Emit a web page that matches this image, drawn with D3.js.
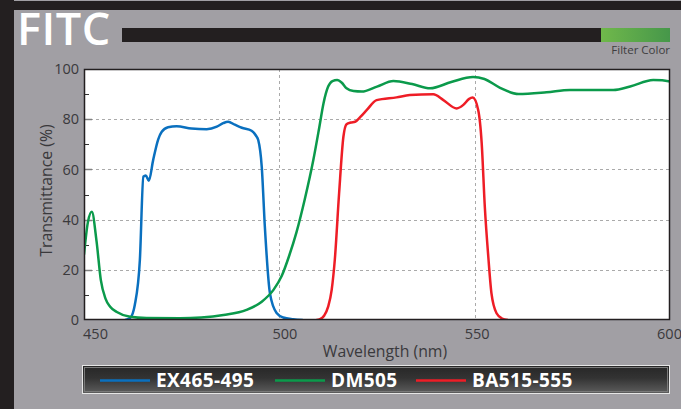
<!DOCTYPE html>
<html>
<head>
<meta charset="utf-8">
<script src="https://cdn.jsdelivr.net/npm/d3@7/dist/d3.min.js"></script>
<style>
  html, body { margin: 0; padding: 0; background: #a19fa4; }
  svg { display: block; }
</style>
</head>
<body>
<svg id="chart" width="681" height="409"></svg>
<script>
// Transmission spectra of the FITC filter set (wavelength nm, transmittance %)
const exWl = [460.5, 461.8, 463.0, 464.3, 465.2, 465.8, 466.6, 467.7, 469.0, 469.9, 471.5, 473.7, 477.5, 481.4, 484.0, 485.6, 486.9, 488.6, 490.4, 492.9, 494.0, 494.6, 495.5, 496.3, 497.6, 499.3, 501.0, 503.5, 506.0];
const exT  = [0.0, 0.8, 6.0, 23.9, 57.1, 57.6, 55.5, 63.7, 72.0, 75.0, 76.8, 77.2, 76.3, 76.0, 77.0, 78.4, 79.0, 77.8, 76.6, 75.4, 73.5, 71.7, 61.0, 37.0, 10.6, 2.8, 1.0, 0.3, 0.0];

const dmWl = [450.0, 451.0, 452.0, 453.2, 454.3, 455.5, 456.7, 458.4, 461.8, 466.0, 474.6, 480.0, 485.7, 491.6, 495.5, 498.5, 500.6, 502.5, 504.4, 506.5, 508.7, 510.2, 511.3, 512.5, 513.6, 514.8, 516.0, 517.2, 519.0, 521.1, 525.0, 529.2, 534.0, 538.6, 544.0, 549.6, 552.5, 556.5, 561.2, 568.4, 574.4, 580.0, 585.5, 589.8, 595.7, 598.0, 600.0];
const dmT  = [26.0, 39.0, 43.1, 31.5, 16.0, 8.5, 5.3, 3.2, 1.3, 0.8, 0.7, 1.0, 2.0, 4.0, 7.3, 12.0, 17.5, 25.5, 35.0, 48.0, 63.7, 76.5, 86.3, 93.0, 95.2, 95.6, 94.5, 92.3, 91.2, 91.0, 93.0, 95.2, 94.0, 92.3, 94.8, 96.8, 96.0, 92.5, 90.0, 90.7, 91.6, 91.6, 91.6, 93.0, 95.6, 95.5, 95.0];

const baWl = [509.5, 510.4, 511.5, 512.5, 513.4, 514.2, 515.3, 516.4, 517.2, 518.3, 519.4, 520.8, 522.4, 524.9, 530.0, 533.4, 539.4, 542.0, 545.4, 547.1, 548.5, 549.5, 550.9, 551.8, 552.6, 553.5, 554.3, 555.6, 557.0, 558.5];
const baT  = [0.0, 0.3, 1.8, 5.3, 12.0, 24.0, 50.5, 73.0, 78.0, 78.7, 79.0, 81.0, 83.7, 87.6, 88.7, 89.6, 89.9, 87.6, 84.3, 85.7, 88.0, 88.6, 83.7, 70.4, 45.0, 25.0, 10.6, 2.7, 0.6, 0.0];

const seriesNames = ["EX465-495", "DM505", "BA515-555"];
const seriesColors = ["#0a70bf", "#0b9a4b", "#ee1d26"];

const xTicks = [450, 500, 550, 600];
const yTicks = [0, 20, 40, 60, 80, 100];
const yMinorTicks = [10, 30, 50, 70, 90];

const svg = d3.select("#chart");
const W = 681, H = 409;
const plot = { left: 84, top: 69, right: 670, bottom: 320 };
const font = "'Open Sans', sans-serif";
const textColor = "#3a393c";

// page background and dark frame strips
svg.append("rect").attr("width", W).attr("height", H).attr("fill", "#a19fa4");
svg.append("rect").attr("x", 0).attr("y", 1).attr("width", W).attr("height", 9).attr("fill", "#231f20");
svg.append("rect").attr("x", 0).attr("y", 0).attr("width", 14).attr("height", H).attr("fill", "#231f20");

// title and filter colour bar
svg.append("text").attr("x", 17).attr("y", 45)
  .attr("font-family", font).attr("font-weight", 600)
  .attr("font-size", 45).attr("fill", "#ffffff").attr("letter-spacing", 0.5)
  .text("FITC");

svg.append("rect").attr("x", 122).attr("y", 28).attr("width", 479).attr("height", 14).attr("fill", "#231f20");

const defs = svg.append("defs");
const gGrad = defs.append("linearGradient").attr("id", "filterGreen")
  .attr("x1", "0").attr("y1", "0").attr("x2", "1").attr("y2", "0");
gGrad.append("stop").attr("offset", "0").attr("stop-color", "#70b84b");
gGrad.append("stop").attr("offset", "1").attr("stop-color", "#46974a");
svg.append("rect").attr("x", 601).attr("y", 28).attr("width", 69).attr("height", 14).attr("fill", "url(#filterGreen)");

svg.append("text").attr("x", 670).attr("y", 54).attr("text-anchor", "end")
  .attr("font-family", font).attr("font-size", 11.5)
  .attr("fill", "#3e3d40").text("Filter Color");

// scales
const x = d3.scaleLinear().domain([450, 600]).range([plot.left, plot.right]);
const y = d3.scaleLinear().domain([0, 100]).range([plot.bottom, plot.top]);

// plot area
svg.append("rect").attr("x", plot.left).attr("y", plot.top)
  .attr("width", plot.right - plot.left).attr("height", plot.bottom - plot.top)
  .attr("fill", "#ffffff");

// dashed grid
const grid = svg.append("g").attr("stroke", "#aaaaaa").attr("stroke-width", 1).attr("stroke-dasharray", "3,3");
grid.selectAll("line.h").data(yTicks.filter(d => d > 0 && d < 100)).join("line")
  .attr("x1", plot.left).attr("x2", plot.right)
  .attr("y1", d => Math.round(y(d)) + 0.5).attr("y2", d => Math.round(y(d)) + 0.5);
grid.selectAll("line.v").data(xTicks.filter(d => d > 450 && d < 600)).join("line")
  .attr("y1", plot.top).attr("y2", plot.bottom)
  .attr("x1", d => Math.round(x(d)) + 0.5).attr("x2", d => Math.round(x(d)) + 0.5);

// inner tick marks on the y axis
const ticks = svg.append("g");
ticks.selectAll("line.maj").data(yTicks.filter(d => d > 0 && d < 100)).join("line")
  .attr("x1", plot.left).attr("x2", plot.left + 8)
  .attr("y1", d => Math.round(y(d)) + 0.5).attr("y2", d => Math.round(y(d)) + 0.5)
  .attr("stroke", "#808080").attr("stroke-width", 1.5);
ticks.selectAll("line.min").data(yMinorTicks).join("line")
  .attr("x1", plot.left).attr("x2", plot.left + 5)
  .attr("y1", d => Math.round(y(d)) + 0.5).attr("y2", d => Math.round(y(d)) + 0.5)
  .attr("stroke", "#333333").attr("stroke-width", 1);

// spectra
const line = d3.line().x(d => x(d[0])).y(d => y(d[1])).curve(d3.curveMonotoneX);
const series = [
  d3.zip(exWl, exT),
  d3.zip(dmWl, dmT),
  d3.zip(baWl, baT)
];
svg.append("clipPath").attr("id", "plotClip").append("rect")
  .attr("x", plot.left).attr("y", plot.top - 5)
  .attr("width", plot.right - plot.left).attr("height", plot.bottom - plot.top + 5);
svg.append("g").attr("clip-path", "url(#plotClip)")
  .selectAll("path").data(series).join("path")
  .attr("d", line).attr("fill", "none")
  .attr("stroke", (d, i) => seriesColors[i]).attr("stroke-width", 2.5)
  .attr("stroke-linejoin", "round");

// plot frame
svg.append("rect").attr("x", plot.left + 0.5).attr("y", plot.top + 0.5)
  .attr("width", plot.right - plot.left - 1).attr("height", plot.bottom - plot.top - 1)
  .attr("fill", "none").attr("stroke", "#231f20").attr("stroke-width", 1.5);

// axes (labels only; lines come from the frame)
const xLabelShift = [11, 5, 2, -1];
const xAxis = svg.append("g").attr("transform", `translate(0,${plot.bottom})`)
  .call(d3.axisBottom(x).tickValues(xTicks).tickSize(0).tickPadding(9));
xAxis.selectAll("text").attr("dx", (d, i) => xLabelShift[i]);
const yAxis = svg.append("g").attr("transform", `translate(${plot.left},0)`)
  .call(d3.axisLeft(y).tickValues(yTicks).tickSize(0).tickPadding(5));
[xAxis, yAxis].forEach(a => {
  a.select(".domain").remove();
  a.selectAll("text").attr("font-family", font)
    .attr("font-size", 14.5).attr("fill", textColor);
});

svg.append("text").attr("x", 385).attr("y", 357)
  .attr("text-anchor", "middle").attr("font-family", font)
  .attr("font-size", 15.8).attr("fill", textColor).text("Wavelength (nm)");
svg.append("text").attr("transform", `translate(52,${(plot.top + plot.bottom) / 2 - 4}) rotate(-90)`)
  .attr("text-anchor", "middle").attr("font-family", font)
  .attr("font-size", 15.8).attr("fill", textColor).text("Transmittance (%)");

// legend
const lg = defs.append("linearGradient").attr("id", "legendBg")
  .attr("x1", "0").attr("y1", "0").attr("x2", "0").attr("y2", "1");
lg.append("stop").attr("offset", "0").attr("stop-color", "#262626");
lg.append("stop").attr("offset", "0.45").attr("stop-color", "#333333");
lg.append("stop").attr("offset", "1").attr("stop-color", "#5e5e5e");
svg.append("rect").attr("x", 82.5).attr("y", 365.5).attr("width", 587).attr("height", 28)
  .attr("fill", "url(#legendBg)").attr("stroke", "#e6e6e6").attr("stroke-width", 1);
svg.append("rect").attr("x", 84.5).attr("y", 367.5).attr("width", 583).attr("height", 24)
  .attr("fill", "none").attr("stroke", "#7a7a7a").attr("stroke-width", 1);

const legendX = [100, 275, 416];
const legend = svg.append("g").selectAll("g").data(seriesNames).join("g")
  .attr("transform", (d, i) => `translate(${legendX[i]},380)`);
legend.append("line").attr("x1", 0).attr("x2", 50).attr("y1", 0.5).attr("y2", 0.5)
  .attr("stroke", (d, i) => seriesColors[i]).attr("stroke-width", 2.5);
legend.append("text").attr("x", 56).attr("y", 7)
  .attr("font-family", font).attr("font-weight", 700).attr("letter-spacing", 0.4)
  .attr("font-size", 19).attr("fill", "#ffffff").text(d => d);
</script>
</body>
</html>
